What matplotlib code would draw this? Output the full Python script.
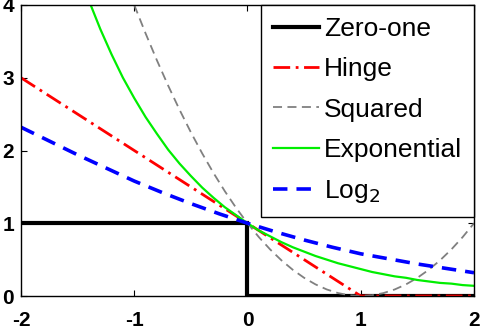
import matplotlib
matplotlib.use("Agg")
import matplotlib.pyplot as plt

# Margin m = y * f(x)
zero_one_x = [-2.0, 0.0, 0.0, 2.0]
zero_one_y = [1.0, 1.0, 0.0, 0.0]

hinge_x = [-2.0, 1.0, 2.0]
hinge_y = [3.0, 0.0, 0.0]

squared_x = [-1.0, -0.9, -0.8, -0.7, -0.6, -0.5, -0.4, -0.3, -0.2, -0.1, 0.0,
             0.1, 0.2, 0.3, 0.4, 0.5, 0.6, 0.7, 0.8, 0.9, 1.0,
             1.1, 1.2, 1.3, 1.4, 1.5, 1.6, 1.7, 1.8, 1.9, 2.0]
squared_y = [4.00, 3.61, 3.24, 2.89, 2.56, 2.25, 1.96, 1.69, 1.44, 1.21, 1.00,
             0.81, 0.64, 0.49, 0.36, 0.25, 0.16, 0.09, 0.04, 0.01, 0.00,
             0.01, 0.04, 0.09, 0.16, 0.25, 0.36, 0.49, 0.64, 0.81, 1.00]

exp_x = [-1.4, -1.3, -1.2, -1.1, -1.0, -0.9, -0.8, -0.7, -0.6, -0.5, -0.4,
         -0.3, -0.2, -0.1, 0.0, 0.1, 0.2, 0.3, 0.4, 0.5, 0.6, 0.7, 0.8,
         0.9, 1.0, 1.1, 1.2, 1.3, 1.4, 1.5, 1.6, 1.7, 1.8, 1.9, 2.0]
exp_y = [4.06, 3.67, 3.32, 3.00, 2.72, 2.46, 2.23, 2.01, 1.82, 1.65, 1.49,
         1.35, 1.22, 1.11, 1.00, 0.90, 0.82, 0.74, 0.67, 0.61, 0.55, 0.50, 0.45,
         0.41, 0.37, 0.33, 0.30, 0.27, 0.25, 0.22, 0.20, 0.18, 0.17, 0.15, 0.14]

log_x = [-2.0, -1.75, -1.5, -1.25, -1.0, -0.75, -0.5, -0.25, 0.0,
         0.25, 0.5, 0.75, 1.0, 1.25, 1.5, 1.75, 2.0]
log_y = [2.32, 2.13, 1.94, 1.76, 1.58, 1.42, 1.27, 1.13, 1.00,
         0.88, 0.77, 0.67, 0.58, 0.51, 0.44, 0.38, 0.32]

x_ticks = [-2, -1, 0, 1, 2]
x_labels = ["-2", "-1", "0", "1", "2"]
y_ticks = [0, 1, 2, 3, 4]
y_labels = ["0", "1", "2", "3", "4"]

plt.rcParams["font.family"] = ["Liberation Sans", "DejaVu Sans"]

fig = plt.figure(figsize=(4.8, 3.32), dpi=100)
ax = fig.add_axes([21 / 480, 36 / 332, 453 / 480, 291 / 332])

ax.plot(zero_one_x, zero_one_y, color="black", lw=3.0, label="Zero-one",
        solid_joinstyle="miter")
ax.plot(hinge_x, hinge_y, color="red", lw=2.0, dashes=(6, 2, 1, 2), label="Hinge")
ax.plot(squared_x, squared_y, color="#808080", lw=1.3, dashes=(5, 3), label="Squared")
ax.plot(exp_x, exp_y, color="#00ee00", lw=1.6, label="Exponential")
ax.plot(log_x, log_y, color="blue", lw=2.6, dashes=(4, 2.5), label="Log$_2$")

ax.set_xlim(-2, 2)
ax.set_ylim(0, 4)
ax.set_xticks(x_ticks, x_labels, fontweight="bold")
ax.set_yticks(y_ticks, y_labels, fontweight="bold")
ax.tick_params(direction="in", length=4, width=0.8, top=True, right=True,
               labelsize=15)
ax.tick_params(axis="x", pad=11)
ax.tick_params(axis="y", pad=5)
for s in ax.spines.values():
    s.set_linewidth(1.0)

leg = ax.legend(loc="upper right", borderaxespad=0, fancybox=False,
                edgecolor="black", framealpha=1, fontsize=19,
                handlelength=1.75, labelspacing=0.62, handletextpad=0.2,
                borderpad=0.45)
leg.get_frame().set_linewidth(1.0)

fig.savefig("out.png", dpi=100)
